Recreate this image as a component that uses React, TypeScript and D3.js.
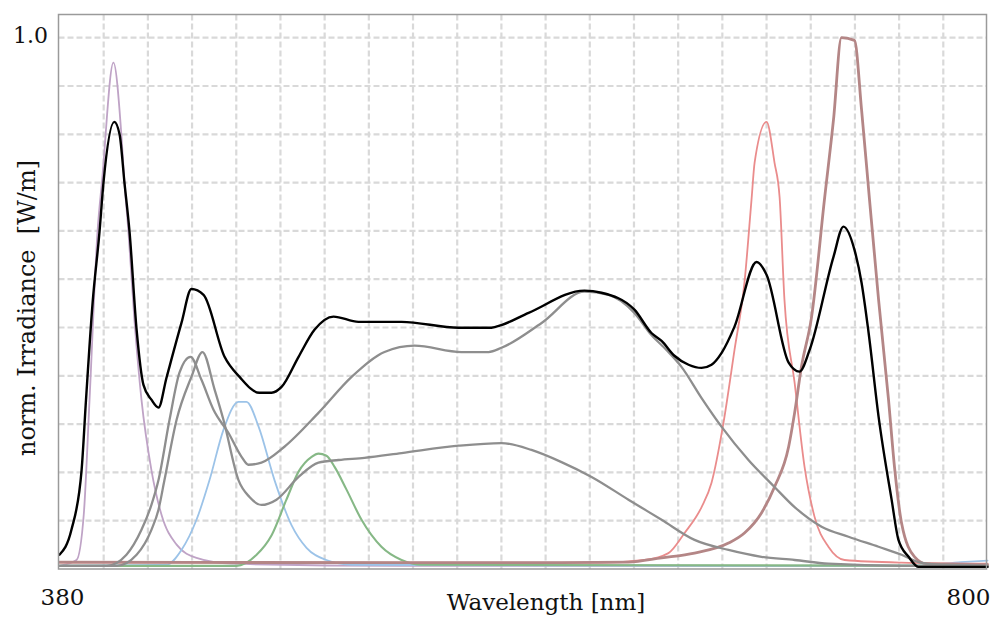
import React from "react";
import * as d3 from "d3";

// wavelength [nm], normalized irradiance
const blackSeries: [number, number][] = [
  [380, 0.023], [385.4, 0.07], [390, 0.183], [392, 0.316], [395, 0.5], [398.1, 0.633],
  [399.9, 0.726], [404.8, 0.841], [407.2, 0.817], [409.4, 0.726], [411.7, 0.633],
  [414.9, 0.448], [418, 0.344], [421.6, 0.316], [424.8, 0.301], [428.4, 0.357],
  [435.2, 0.461], [439.7, 0.525], [445.2, 0.514], [454.7, 0.397], [461.5, 0.359],
  [470.5, 0.329], [476, 0.329], [480.5, 0.34], [488.2, 0.397], [495.4, 0.448],
  [504, 0.473], [515.3, 0.463], [534.8, 0.463], [560.6, 0.452], [575.5, 0.452],
  [580, 0.457], [592.3, 0.48], [617.6, 0.522], [625.3, 0.518], [640.2, 0.486],
  [647.9, 0.442], [652.5, 0.427], [658.3, 0.399], [664.7, 0.382], [670.6, 0.376],
  [675.1, 0.382], [679.6, 0.404], [685.5, 0.454], [695.5, 0.576], [700, 0.552],
  [710, 0.386], [714.9, 0.369], [719.5, 0.41], [730.3, 0.586], [734.8, 0.643],
  [739.8, 0.599], [743, 0.537], [746.2, 0.442], [750.7, 0.284], [756.6, 0.127],
  [759.7, 0.051], [764.3, 0.019], [768.8, 0.0], [800, 0.0],
];

const grayUpper: [number, number][] = [
  [380, 0.002], [401.3, 0.002], [410.3, 0.023], [417.1, 0.07], [421.6, 0.117],
  [424.8, 0.164], [429.8, 0.278], [434.3, 0.367], [439.3, 0.397], [444.3, 0.353],
  [449.7, 0.297], [456.5, 0.253], [462.4, 0.208], [465.5, 0.193], [471.4, 0.197],
  [481.8, 0.227], [497.2, 0.291], [512.2, 0.359], [527.1, 0.406], [540.7, 0.418],
  [561.9, 0.406], [574.2, 0.406], [580, 0.414], [598.2, 0.461], [617.6, 0.52],
  [628.5, 0.514], [640.2, 0.48], [647.9, 0.438], [654.7, 0.41], [661.5, 0.378],
  [670.6, 0.319], [679.6, 0.265], [691.8, 0.202], [703.6, 0.151], [712.7, 0.113],
  [724.9, 0.076], [737.1, 0.057], [750.7, 0.038], [761.1, 0.023], [768.8, 0.009],
  [779.2, 0.004], [800, 0.002],
];

const grayLower: [number, number][] = [
  [380, 0.002], [405.8, 0.002], [414.9, 0.023], [421.6, 0.07], [424.8, 0.108],
  [427.5, 0.164], [433, 0.278], [439.7, 0.359], [444.7, 0.406], [450.2, 0.335],
  [454.2, 0.278], [461, 0.164], [466, 0.132], [471.4, 0.117], [478.2, 0.127],
  [488.2, 0.17], [497.2, 0.197], [506.3, 0.202], [518, 0.206], [534.8, 0.215],
  [560.6, 0.229], [580, 0.234], [593.6, 0.221], [607.2, 0.198], [620.8, 0.17],
  [637.5, 0.127], [652.5, 0.089], [667.4, 0.051], [682.8, 0.032], [697.7, 0.019],
  [712.7, 0.013], [728, 0.006], [761.1, 0.002], [800, 0.002],
];

const violetSeries: [number, number][] = [
  [380, 0.002], [387.7, 0.013], [391, 0.1], [393.6, 0.316], [397.2, 0.633],
  [399.3, 0.732], [404.4, 0.953], [408, 0.817], [409.4, 0.726], [411.2, 0.633],
  [413.9, 0.467], [417.1, 0.316], [421.6, 0.183], [426.2, 0.098], [433, 0.042],
  [442, 0.017], [457.8, 0.006], [534.8, 0.002], [800, 0.002],
];

const blueSeries: [number, number][] = [
  [380, 0.002], [428.4, 0.004], [435.2, 0.032], [442, 0.089], [447.9, 0.164],
  [454.2, 0.259], [461, 0.312], [464.6, 0.312], [470.1, 0.265], [477.3, 0.164],
  [485, 0.079], [491.8, 0.036], [500.8, 0.013], [512.2, 0.004], [700, 0.002],
  [770, 0.003], [788, 0.009], [800, 0.012],
];

const greenSeries: [number, number][] = [
  [380, 0.002], [460.1, 0.002], [469.2, 0.023], [476, 0.06], [482.7, 0.127],
  [488.2, 0.18], [494.1, 0.208], [497.2, 0.214], [500.8, 0.21], [504.5, 0.189],
  [509.9, 0.146], [516.7, 0.089], [525.7, 0.038], [534.8, 0.013], [543.8, 0.004],
  [800, 0.002],
];

const redSeries: [number, number][] = [
  [380, 0.008], [534.8, 0.008], [625.3, 0.008], [644.8, 0.013], [655.6, 0.026],
  [662.9, 0.064], [670.6, 0.113], [675.1, 0.159], [680.5, 0.272], [685.5, 0.41],
  [690, 0.537], [693.2, 0.694], [694.6, 0.764], [700, 0.841], [703.6, 0.764],
  [705.9, 0.699], [708.1, 0.505], [712.7, 0.348], [717.2, 0.189], [721.7, 0.095],
  [728, 0.038], [735.3, 0.013], [761.1, 0.008], [800, 0.006],
];

const farRedSeries: [number, number][] = [
  [380, 0.009], [534.8, 0.008], [607.2, 0.008], [637.5, 0.009], [652.5, 0.017],
  [667.4, 0.026], [682.8, 0.045], [690, 0.064], [697.7, 0.102], [703.6, 0.151],
  [710, 0.227], [712.7, 0.291], [715.8, 0.378], [720.4, 0.473], [726.2, 0.694],
  [730.3, 0.845], [733.9, 1.0], [739.8, 0.995], [743, 0.864], [746.6, 0.694],
  [750.7, 0.505], [755.2, 0.316], [757.9, 0.189], [761.1, 0.083], [767, 0.019],
  [772.4, 0.006], [800, 0.004],
];

const xTickLabels = [380, 800];
const yTickLabels = [1.0];
const xGridStep = 20;
const yDivisions = 11;

const W = 994;
const H = 617;
const frame = { left: 58.5, right: 986.5, top: 14.5, bottom: 569 };

export default function App() {
  const x = d3.scaleLinear().domain([380, 800]).range([59.5, 987.5]);
  const yMin = -0.004;
  const y = d3.scaleLinear().domain([yMin, 1]).range([569, 37.7]);

  const line = d3
    .line<[number, number]>()
    .x((d) => x(d[0]))
    .y((d) => y(d[1]))
    .curve(d3.curveMonotoneX);

  const xGrid = d3.range(380 + xGridStep, 800, xGridStep);
  const yGrid = d3.range(0, yDivisions).map((k) => 1 - (k * (1 - yMin)) / yDivisions);

  const series: { data: [number, number][]; color: string; width: number }[] = [
    { data: violetSeries, color: "#bfa3c6", width: 1.8 },
    { data: blueSeries, color: "#9cc3e8", width: 1.8 },
    { data: greenSeries, color: "#86b886", width: 2.1 },
    { data: redSeries, color: "#ea8c8c", width: 1.8 },
    { data: farRedSeries, color: "#b48686", width: 2.8 },
    { data: grayLower, color: "#8e8e8e", width: 2.3 },
    { data: grayUpper, color: "#8e8e8e", width: 2.3 },
    { data: blackSeries, color: "#000000", width: 2.4 },
  ];

  const font = "'DejaVu Serif', serif";

  return (
    <svg
      width={W}
      height={H}
      style={{ position: "absolute", left: 0, top: 0, background: "#fff" }}
    >
      <rect x={0} y={0} width={W} height={H} fill="#fff" />
      <g>
        {xGrid.map((v) => (
          <line
            key={"gx" + v}
            x1={x(v)}
            x2={x(v)}
            y1={frame.top}
            y2={frame.bottom}
            stroke="#d9d9d9"
            strokeWidth={2.2}
            strokeDasharray="6 3"
          />
        ))}
        {yGrid.map((v, i) => (
          <line
            key={"gy" + i}
            x1={frame.left}
            x2={frame.right}
            y1={y(v)}
            y2={y(v)}
            stroke="#d9d9d9"
            strokeWidth={2.2}
            strokeDasharray="6 3"
          />
        ))}
      </g>
      <g fill="none" strokeLinejoin="round" strokeLinecap="round">
        {series.map((s, i) => (
          <path key={i} d={line(s.data) || ""} stroke={s.color} strokeWidth={s.width} />
        ))}
      </g>
      <rect
        x={frame.left}
        y={frame.top}
        width={frame.right - frame.left}
        height={frame.bottom - frame.top}
        fill="none"
        stroke="#9a9a9a"
        strokeWidth={1.5}
      />
      {yTickLabels.map((v) => (
        <text
          key={"yl" + v}
          x={48}
          y={y(v) + 5}
          textAnchor="end"
          fontFamily={font}
          fontSize={22}
          fill="#111"
        >
          {v.toFixed(1)}
        </text>
      ))}
      {xTickLabels.map((v, i) => (
        <text
          key={"xl" + v}
          x={x(v) + 3}
          y={605}
          textAnchor={i === 0 ? "middle" : "end"}
          fontFamily={font}
          fontSize={23}
          fill="#111"
        >
          {v}
        </text>
      ))}
      <text
        x={546}
        y={610}
        textAnchor="middle"
        fontFamily={font}
        fontSize={23}
        fill="#111"
      >
        Wavelength [nm]
      </text>
      <text
        transform="translate(35,308) rotate(-90)"
        textAnchor="middle"
        fontFamily={font}
        fontSize={24}
        fill="#111"
        style={{ whiteSpace: "pre" }}
      >
        {"norm. Irradiance  [W/m]"}
      </text>
    </svg>
  );
}
